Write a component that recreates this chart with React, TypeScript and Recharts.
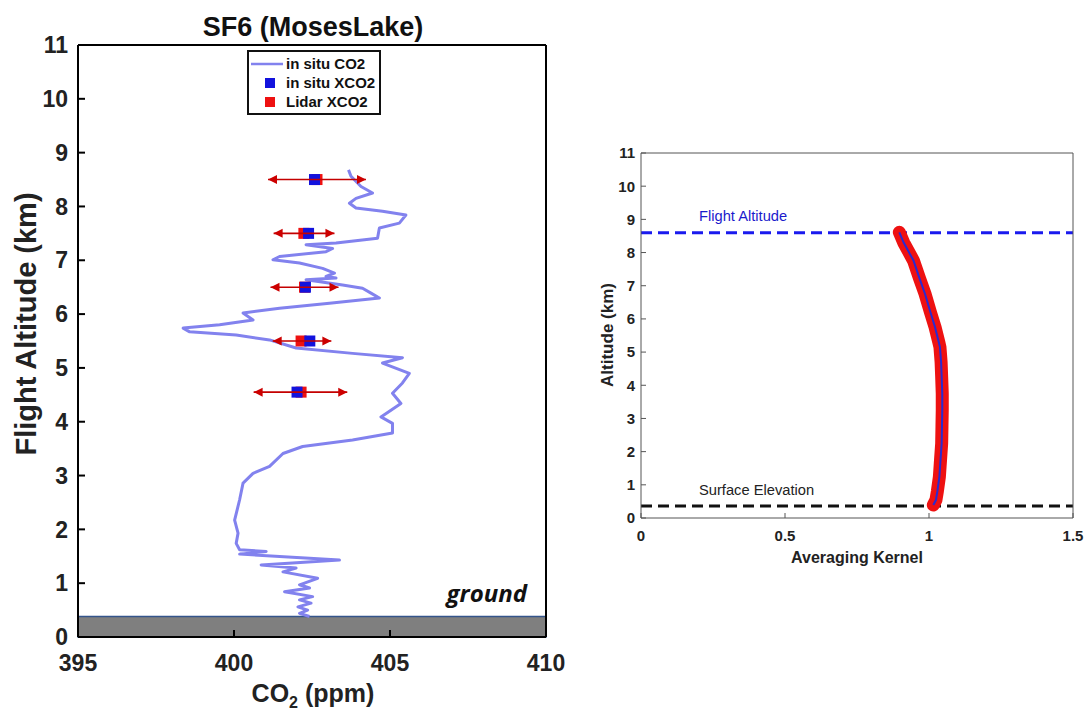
import React from 'react';
import { ScatterChart, Scatter, XAxis, YAxis, ReferenceArea, ReferenceLine } from 'recharts';

// ---- Left panel data: in situ CO2 profile (ppm vs km) ----
const profileCO2 = [
  403.67, 403.75, 404.07, 404.44, 403.91, 403.70, 403.91, 404.76, 405.51, 405.30,
  404.66, 404.60, 403.27, 402.31, 403.16, 402.95, 401.46, 401.25, 402.10, 402.84,
  403.22, 402.95, 403.27, 402.31, 403.48, 404.12, 404.39, 404.66, 403.06, 401.46,
  400.29, 400.61, 399.54, 398.37, 398.58, 400.07, 401.14, 401.99, 403.80, 405.40,
  404.76, 405.62, 405.40, 405.08, 405.35, 404.71, 405.08, 405.08, 403.80, 402.20,
  401.57, 401.14, 400.61, 400.29, 400.18, 400.02, 400.13, 400.07, 400.18, 401.03,
  400.18, 403.38, 400.87, 401.99, 401.57, 402.68, 402.10, 402.42, 401.62, 402.52,
  402.10, 402.47, 402.05, 402.36, 402.10, 402.42,
];
const profileAlt = [
  8.68, 8.56, 8.37, 8.25, 8.15, 8.06, 7.97, 7.91, 7.84, 7.69,
  7.60, 7.41, 7.32, 7.29, 7.22, 7.16, 7.07, 7.01, 6.95, 6.85,
  6.76, 6.70, 6.67, 6.64, 6.54, 6.48, 6.39, 6.30, 6.20, 6.11,
  6.02, 5.89, 5.80, 5.74, 5.67, 5.61, 5.52, 5.37, 5.27, 5.19,
  5.09, 4.90, 4.72, 4.53, 4.34, 4.09, 3.97, 3.79, 3.66, 3.54,
  3.41, 3.17, 3.04, 2.86, 2.55, 2.17, 1.93, 1.74, 1.62, 1.59,
  1.54, 1.43, 1.34, 1.28, 1.21, 1.09, 0.97, 0.91, 0.84, 0.75,
  0.69, 0.63, 0.56, 0.50, 0.44, 0.38,
];
const xco2Alt = [8.5, 7.5, 6.5, 5.5, 4.55];
const insituXCO2 = [402.58, 402.39, 402.29, 402.43, 402.02];
const lidarXCO2 = [402.66, 402.24, 402.26, 402.15, 402.15];
const errLow = [401.09, 401.27, 401.17, 401.24, 400.63];
const errHigh = [404.23, 403.22, 403.35, 403.12, 403.63];
const groundTop = 0.38;
const leftXTicks = [395, 400, 405, 410];
const leftYTicks = [0, 1, 2, 3, 4, 5, 6, 7, 8, 9, 10, 11];

// ---- Right panel data: averaging kernel ----
const akAlt = [8.61, 8.3, 7.76, 7.2, 6.76, 6.2, 5.75, 5.3, 5.15, 4.7, 4.25, 3.75, 3.25, 2.75, 2.25, 1.75, 1.24, 0.8, 0.54, 0.39];
const akValue = [0.897, 0.912, 0.946, 0.968, 0.986, 1.005, 1.021, 1.034, 1.038, 1.042, 1.044, 1.046, 1.046, 1.045, 1.044, 1.040, 1.036, 1.029, 1.024, 1.015];
const flightAltitude = 8.6;
const surfaceElevation = 0.36;
const rightXTicks = [0, 0.5, 1, 1.5];
const rightYTicks = [0, 1, 2, 3, 4, 5, 6, 7, 8, 9, 10, 11];

const profileData = profileCO2.map((x, i) => ({ x, y: profileAlt[i] }));
const insituData = insituXCO2.map((x, i) => ({ x, y: xco2Alt[i] }));
const lidarData = lidarXCO2.map((x, i) => ({ x, y: xco2Alt[i] }));
const errData = xco2Alt.map((y, i) => [
  { x: errLow[i], y, side: 'l' },
  { x: errHigh[i], y, side: 'r' },
]);
const akData = akValue.map((x, i) => ({ x, y: akAlt[i] }));
const leftFrameAnchor = [{ x: 395, y: 0 }];
const rightFrameAnchor = [{ x: 0, y: 0 }];

const FONT = '"Liberation Sans", Arial, Helvetica, sans-serif';

const Empty = () => <g />;

const Arrow = (p: any) => {
  const cx = p.cx ?? p.x + (p.width || 0) / 2;
  const cy = p.cy ?? p.y + (p.height || 0) / 2;
  const d = p.payload && p.payload.side === 'l' ? 1 : -1;
  return (
    <polygon
      points={`${cx},${cy} ${cx + d * 9},${cy - 4.5} ${cx + d * 9},${cy + 4.5}`}
      fill="#cc0000"
    />
  );
};

const makeSquare = (fill: string) => (p: any) => {
  const cx = p.cx ?? p.x + (p.width || 0) / 2;
  const cy = p.cy ?? p.y + (p.height || 0) / 2;
  return <rect x={cx - 5.5} y={cy - 5.5} width={11} height={11} fill={fill} />;
};
const BlueSquare = makeSquare('#1212dd');
const RedSquare = makeSquare('#ee1111');

const leftTick = { fontSize: 23, fontWeight: 700, fill: '#222', fontFamily: FONT };
const rightTick = { fontSize: 15, fontWeight: 700, fill: '#222', fontFamily: FONT };

export default function App() {
  return (
    <div style={{ position: 'absolute', left: 0, top: 0, width: 1085, height: 711, background: '#fff', fontFamily: FONT }}>
      <div style={{ position: 'absolute', left: 0, top: 0 }}>
        <ScatterChart width={580} height={711} margin={{ top: 45, right: 34, bottom: 0, left: 0 }}>
          <XAxis
            type="number"
            dataKey="x"
            domain={[395, 410]}
            ticks={leftXTicks}
            allowDataOverflow
            height={74}
            tickSize={-7}
            tickMargin={25}
            tick={leftTick}
            axisLine={{ stroke: '#000', strokeWidth: 2 }}
            tickLine={{ stroke: '#000', strokeWidth: 2 }}
          />
          <XAxis
            xAxisId="t"
            orientation="top"
            mirror
            type="number"
            dataKey="x"
            domain={[395, 410]}
            ticks={leftXTicks}
            allowDataOverflow
            height={10}
            tickSize={7}
            tick={false}
            axisLine={{ stroke: '#000', strokeWidth: 2 }}
            tickLine={{ stroke: '#000', strokeWidth: 2 }}
          />
          <YAxis
            type="number"
            dataKey="y"
            domain={[0, 11]}
            ticks={leftYTicks}
            allowDataOverflow
            width={78}
            tickSize={-7}
            tickMargin={17}
            tick={leftTick}
            axisLine={{ stroke: '#000', strokeWidth: 2 }}
            tickLine={{ stroke: '#000', strokeWidth: 2 }}
          />
          <YAxis
            yAxisId="r"
            orientation="right"
            mirror
            type="number"
            dataKey="y"
            domain={[0, 11]}
            ticks={leftYTicks}
            allowDataOverflow
            width={10}
            tickSize={7}
            tick={false}
            axisLine={{ stroke: '#000', strokeWidth: 2 }}
            tickLine={{ stroke: '#000', strokeWidth: 2 }}
          />
          <Scatter
            xAxisId="t"
            yAxisId="r"
            data={leftFrameAnchor}
            shape={Empty}
            isAnimationActive={false}
          />
          <ReferenceArea
            x1={395}
            x2={410}
            y1={0}
            y2={groundTop}
            fill="#7f7f7f"
            fillOpacity={1}
            stroke="#34558b"
            strokeWidth={1.5}
          />
          <Scatter
            data={profileData}
            line={{ stroke: '#8282ee', strokeWidth: 3, strokeLinejoin: 'round' }}
            shape={Empty}
            isAnimationActive={false}
          />
          <Scatter data={lidarData} shape={RedSquare} isAnimationActive={false} />
          <Scatter data={insituData} shape={BlueSquare} isAnimationActive={false} />
          {errData.map((d, i) => (
            <Scatter
              key={i}
              data={d}
              line={{ stroke: '#c40000', strokeWidth: 1.6 }}
              shape={Arrow}
              isAnimationActive={false}
            />
          ))}
        </ScatterChart>
      </div>

      <div style={{ position: 'absolute', left: 580, top: 0 }}>
        <ScatterChart width={505} height={711} margin={{ top: 153, right: 12, bottom: 163, left: 0 }}>
          <XAxis
            type="number"
            dataKey="x"
            domain={[0, 1.5]}
            ticks={rightXTicks}
            allowDataOverflow
            height={30}
            tickSize={-5}
            tickMargin={17}
            tick={rightTick}
            axisLine={{ stroke: '#555', strokeWidth: 1 }}
            tickLine={{ stroke: '#555', strokeWidth: 1 }}
          />
          <XAxis
            xAxisId="t"
            orientation="top"
            mirror
            type="number"
            dataKey="x"
            domain={[0, 1.5]}
            ticks={rightXTicks}
            allowDataOverflow
            height={10}
            tickSize={5}
            tick={false}
            axisLine={{ stroke: '#555', strokeWidth: 1 }}
            tickLine={{ stroke: '#555', strokeWidth: 1 }}
          />
          <YAxis
            type="number"
            dataKey="y"
            domain={[0, 11]}
            ticks={rightYTicks}
            allowDataOverflow
            width={61}
            tickSize={-5}
            tickMargin={11}
            tick={rightTick}
            axisLine={{ stroke: '#555', strokeWidth: 1 }}
            tickLine={{ stroke: '#555', strokeWidth: 1 }}
          />
          <YAxis
            yAxisId="r"
            orientation="right"
            mirror
            type="number"
            dataKey="y"
            domain={[0, 11]}
            ticks={rightYTicks}
            allowDataOverflow
            width={10}
            tickSize={5}
            tick={false}
            axisLine={{ stroke: '#555', strokeWidth: 1 }}
            tickLine={{ stroke: '#555', strokeWidth: 1 }}
          />
          <Scatter
            xAxisId="t"
            yAxisId="r"
            data={rightFrameAnchor}
            shape={Empty}
            isAnimationActive={false}
          />
          <ReferenceLine y={flightAltitude} stroke="#1a1aee" strokeWidth={3} strokeDasharray="11 6" />
          <ReferenceLine y={surfaceElevation} stroke="#111" strokeWidth={3} strokeDasharray="11 6" />
          <Scatter
            data={akData}
            line={{ stroke: '#ee1111', strokeWidth: 13, strokeLinecap: 'round', strokeLinejoin: 'round' }}
            shape={Empty}
            isAnimationActive={false}
          />
          <Scatter
            data={akData}
            line={{ stroke: '#2a2ad0', strokeWidth: 2 }}
            shape={Empty}
            isAnimationActive={false}
          />
        </ScatterChart>
      </div>

      <svg
        width={1085}
        height={711}
        style={{ position: 'absolute', left: 0, top: 0, pointerEvents: 'none' }}
        fontFamily={FONT}
      >
        <text x={313} y={36} textAnchor="middle" fontSize={27} fontWeight={700} fill="#111">
          SF6 (MosesLake)
        </text>
        <text transform="translate(36,324) rotate(-90)" textAnchor="middle" fontSize={29} fontWeight={700} fill="#222">
          Flight Altitude (km)
        </text>
        <text x={313} y={702} textAnchor="middle" fontSize={25} fontWeight={700} fill="#222">
          CO<tspan dy={6} fontSize={16}>2</tspan>
          <tspan dy={-6}> (ppm)</tspan>
        </text>
        <text
          x={527}
          y={602}
          textAnchor="end"
          fontSize={24}
          fontWeight={700}
          fontStyle="italic"
          fontFamily='"Open Sans", sans-serif'
          fill="#111"
        >
          ground
        </text>

        <rect x={248} y={51} width={132} height={63} fill="#fff" stroke="#111" strokeWidth={2} />
        <line x1={251} x2={283} y1={64} y2={64} stroke="#8282ee" strokeWidth={2.5} />
        <rect x={265} y={78} width={10} height={10} fill="#1212dd" />
        <rect x={265} y={97} width={10} height={10} fill="#ee1111" />
        <text x={286} y={69} fontSize={15} fontWeight={700} fill="#111">in situ CO2</text>
        <text x={286} y={88} fontSize={15} fontWeight={700} fill="#111">in situ XCO2</text>
        <text x={286} y={107} fontSize={15} fontWeight={700} fill="#111">Lidar XCO2</text>

        <text x={699} y={221} fontSize={14.7} fill="#1a1acc">Flight Altitude</text>
        <text x={699} y={495} fontSize={14.7} fill="#222">Surface Elevation</text>
        <text transform="translate(613,335) rotate(-90)" textAnchor="middle" fontSize={17} fontWeight={700} fill="#222">
          Altitude (km)
        </text>
        <text x={857} y={563} textAnchor="middle" fontSize={16} fontWeight={700} fill="#222">
          Averaging Kernel
        </text>
      </svg>
    </div>
  );
}
